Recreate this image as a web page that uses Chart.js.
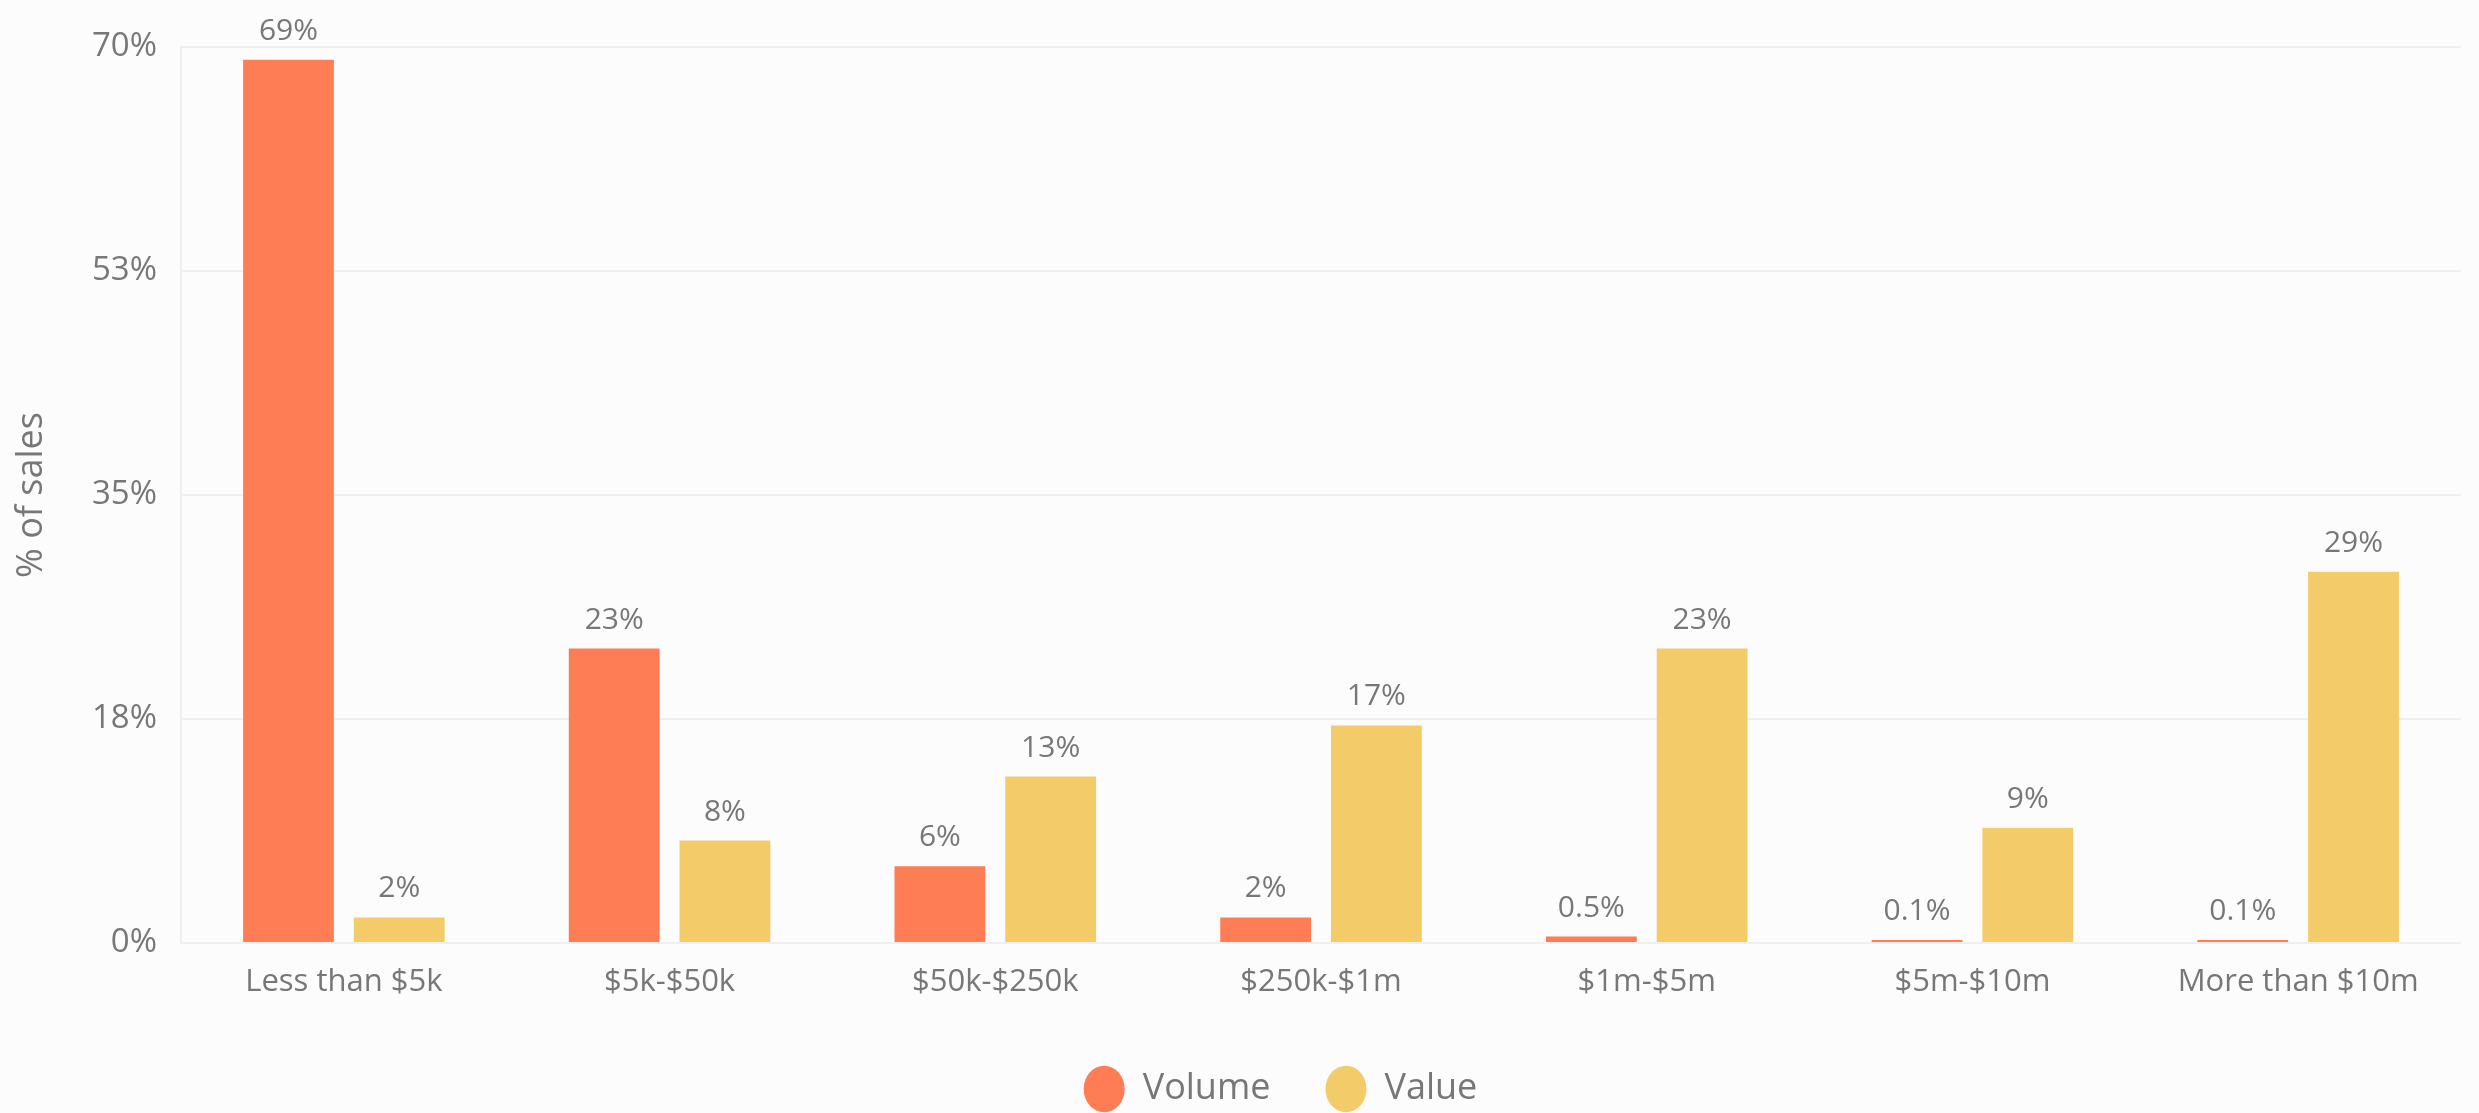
<!DOCTYPE html>
<html>
<head>
<meta charset="utf-8">
<script src="https://cdn.jsdelivr.net/npm/chart.js@4"></script>
<style>
  html, body { margin: 0; padding: 0; background: #fcfcfc; }
  #wrap { width: 2479px; height: 1113px; position: relative; }
</style>
</head>
<body>
<div id="wrap"><canvas id="chart"></canvas></div>
<script>
// bandas de precio de venta
const categories = ['Less than $5k', '$5k-$50k', '$50k-$250k', '$250k-$1m', '$1m-$5m', '$5m-$10m', 'More than $10m'];
const volumeData = [69, 23, 6, 2, 0.5, 0.1, 0.1];
const valueData = [2, 8, 13, 17, 23, 9, 29];
const yTicks = [0, 17.5, 35, 52.5, 70];

const textColor = '#777777';
const fontFamily = '"Open Sans", "Noto Sans", sans-serif';

// etiquetas encima de cada barra
const barLabels = {
  id: 'barLabels',
  afterDatasetsDraw(chart) {
    const ctx = chart.ctx;
    ctx.save();
    ctx.font = '30px ' + fontFamily;
    ctx.fillStyle = textColor;
    ctx.textAlign = 'center';
    ctx.textBaseline = 'alphabetic';
    chart.data.datasets.forEach((ds, i) => {
      chart.getDatasetMeta(i).data.forEach((bar, j) => {
        ctx.fillText(ds.data[j] + '%', bar.x, bar.y - 20);
      });
    });
    ctx.restore();
  }
};

// la leyenda va un poco a la derecha del centro
const shiftLegend = {
  id: 'shiftLegend',
  afterLayout(chart) {
    chart.legend.left += 45;
    chart.legend.right += 45;
  }
};

const ctx = document.getElementById('chart').getContext('2d');
const chart = new Chart(ctx, {
  type: 'bar',
  data: {
    labels: categories,
    datasets: [{
      label: 'Volume',
      data: volumeData,
      backgroundColor: '#ff7d55',
      categoryPercentage: 0.68,
      barPercentage: 0.82,
      minBarLength: 3
    }, {
      label: 'Value',
      data: valueData,
      backgroundColor: '#f3cc69',
      categoryPercentage: 0.68,
      barPercentage: 0.82,
      minBarLength: 3
    }]
  },
  options: {
    responsive: true,
    maintainAspectRatio: false,
    animation: false,
    layout: { padding: { top: 47, right: 18, left: 10, bottom: -4 } },
    plugins: {
      tooltip: { enabled: false },
      legend: {
        position: 'bottom',
        labels: {
          usePointStyle: true,
          pointStyle: 'circle',
          pointStyleWidth: 41,
          boxHeight: 33,
          padding: 55,
          color: textColor,
          font: { family: fontFamily, size: 36 }
        }
      }
    },
    scales: {
      x: {
        grid: { display: false, drawTicks: false },
        border: { display: false },
        afterFit: (scale) => { scale.height = 73; },
        ticks: {
          color: textColor,
          padding: 21,
          font: { family: fontFamily, size: 31 }
        }
      },
      y: {
        min: 0,
        max: 70,
        afterBuildTicks: (scale) => { scale.ticks = yTicks.map(v => ({ value: v })); },
        afterFit: (scale) => { scale.width = 171; },
        grid: { color: '#efefef', lineWidth: 2, drawTicks: false },
        border: { color: '#efefef', width: 2 },
        title: {
          display: true,
          text: '% of sales',
          color: textColor,
          padding: 0,
          font: { family: fontFamily, size: 36 }
        },
        ticks: {
          color: textColor,
          padding: 24,
          font: { family: fontFamily, size: 33 },
          callback: (v) => Math.round(v) + '%'
        }
      }
    }
  },
  plugins: [barLabels, shiftLegend]
});
</script>
</body>
</html>
